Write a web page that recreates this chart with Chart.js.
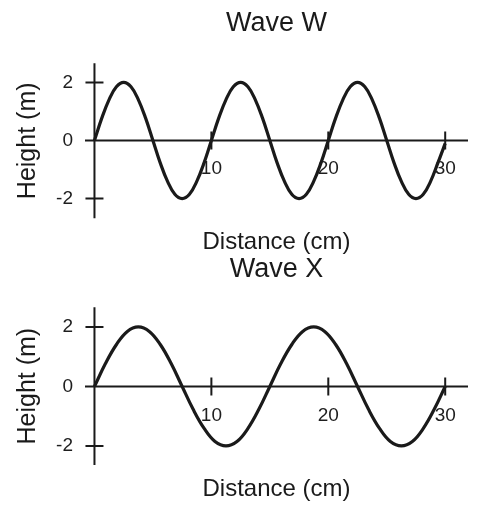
<!DOCTYPE html>
<html><head><meta charset="utf-8">
<script src="https://cdn.jsdelivr.net/npm/chart.js@4/dist/chart.umd.min.js"></script>
<style>
html,body{margin:0;padding:0;background:#fff;width:488px;height:512px;overflow:hidden;}
canvas{position:absolute;left:0;}
#c1{top:0px}
#c2{top:240px}
</style></head><body>
<canvas id="c1" width="488" height="260" style="width:488px;height:260px"></canvas>
<canvas id="c2" width="488" height="272" style="width:488px;height:272px"></canvas>
<script>
// ---- data ----
const waveWDistance = [0,0.625,1.25,1.875,2.5,3.125,3.75,4.375,5,5.625,6.25,6.875,7.5,8.125,8.75,9.375,
  10,10.625,11.25,11.875,12.5,13.125,13.75,14.375,15,15.625,16.25,16.875,17.5,18.125,18.75,19.375,
  20,20.625,21.25,21.875,22.5,23.125,23.75,24.375,25,25.625,26.25,26.875,27.5,28.125,28.75,29.375,30];
const waveWHeight = [0,0.77,1.41,1.85,2,1.85,1.41,0.77,0,-0.77,-1.41,-1.85,-2,-1.85,-1.41,-0.77,
  0,0.77,1.41,1.85,2,1.85,1.41,0.77,0,-0.77,-1.41,-1.85,-2,-1.85,-1.41,-0.77,
  0,0.77,1.41,1.85,2,1.85,1.41,0.77,0,-0.77,-1.41,-1.85,-2,-1.85,-1.41,-0.77,-0.1];
const waveXDistance = [0,0.94,1.88,2.81,3.75,4.69,5.63,6.56,7.5,8.44,9.38,10.31,11.25,12.19,13.13,14.06,
  15,15.94,16.88,17.81,18.75,19.69,20.63,21.56,22.5,23.44,24.38,25.31,26.25,27.19,28.13,29.06,30];
const waveXHeight = [0,0.77,1.41,1.85,2,1.85,1.41,0.77,0,-0.77,-1.41,-1.85,-2,-1.85,-1.41,-0.77,
  0,0.77,1.41,1.85,2,1.85,1.41,0.77,0,-0.77,-1.41,-1.85,-2,-1.85,-1.41,-0.77,0];
const xTickValues = [10, 20, 30];
const xTickLabels = ['10', '20', '30'];
const yTickValues = [-2, 0, 2];
const yTickLabels = ['-2', '0', '2'];
const chartTitles = ['Wave W', 'Wave X'];
const xAxisTitle = 'Distance (cm)';
const yAxisTitle = 'Height (m)';

const FONT = "'Liberation Sans', Arial, Helvetica, sans-serif";
const INK = '#1a1a1a';
const TICK_INK = '#1e1e1e';

const crossAxes = {
  id: 'crossAxes',
  afterDatasetsDraw(chart) {
    const {ctx, chartArea: a} = chart;
    const x = chart.scales.x, y = chart.scales.y;
    const x0 = x.getPixelForValue(0), y0 = y.getPixelForValue(0);
    ctx.save();
    ctx.strokeStyle = INK;
    ctx.lineWidth = 2;
    ctx.beginPath();
    ctx.moveTo(a.left, y0); ctx.lineTo(a.right, y0);
    ctx.moveTo(x0, a.top); ctx.lineTo(x0, a.bottom);
    yTickValues.forEach(v => {
      if (v === 0) return;
      const py = y.getPixelForValue(v);
      ctx.moveTo(x0 - 9, py); ctx.lineTo(x0 + 9, py);
    });
    xTickValues.forEach(v => {
      const px = x.getPixelForValue(v);
      ctx.moveTo(px, y0 - 9); ctx.lineTo(px, y0 + 9);
    });
    ctx.stroke();
    ctx.restore();
  }
};

function makeChart(id, title, xs, ys, c) {
  return new Chart(document.getElementById(id), {
    type: 'line',
    data: {
      datasets: [{
        data: xs.map((d, i) => ({x: d, y: ys[i]})),
        borderColor: INK, borderWidth: 3.2, pointRadius: 0,
        tension: 0.4, fill: false, clip: false
      }]
    },
    options: {
      responsive: false, animation: false, devicePixelRatio: 1,
      layout: {padding: {left: 0, right: 20, top: 0, bottom: 0}},
      plugins: {
        legend: {display: false}, tooltip: {enabled: false},
        title: {display: true, text: title, fullSize: false, color: INK,
          font: {family: FONT, size: 27, weight: 'normal'},
          padding: {top: c.titleTop, bottom: c.titleBottom}}
      },
      scales: {
        x: {
          type: 'linear', position: {y: 0}, min: -0.81, max: 31.95,
          afterBuildTicks: s => { s.ticks = xTickValues.map(v => ({value: v})); },
          afterFit: s => { s.height = 0; },
          grid: {display: false, drawTicks: false}, border: {display: false},
          ticks: {color: TICK_INK, font: {family: FONT, size: 19}, padding: c.xTickPad,
            maxRotation: 0, autoSkip: false,
            callback: v => xTickLabels[xTickValues.indexOf(v)]}
        },
        x2: {
          type: 'linear', position: 'bottom', min: -0.81, max: 31.95,
          afterFit: s => { s.height = c.x2h; },
          grid: {display: false, drawTicks: false}, border: {display: false},
          ticks: {display: false},
          title: {display: true, text: xAxisTitle, color: INK,
            font: {family: FONT, size: 24}, padding: {top: 0, bottom: c.x2pad}}
        },
        y: {
          type: 'linear', position: 'left', min: c.ymin, max: c.ymax,
          afterBuildTicks: s => { s.ticks = yTickValues.map(v => ({value: v})); },
          afterFit: s => { s.width = 85; },
          grid: {display: false, drawTicks: false}, border: {display: false},
          ticks: {color: TICK_INK, font: {family: FONT, size: 19}, padding: 12,
            callback: v => yTickLabels[yTickValues.indexOf(v)]},
          title: {display: true, text: yAxisTitle, color: INK,
            font: {family: FONT, size: 25}, padding: {top: 13.5, bottom: 0}}
        }
      }
    },
    plugins: [crossAxes]
  });
}

makeChart('c1', chartTitles[0], waveWDistance, waveWHeight,
  {ymin: -2.68, ymax: 2.66, titleTop: 7.8, titleBottom: 23.1, xTickPad: 17, x2h: 41.7, x2pad: 3.6});
makeChart('c2', chartTitles[1], waveXDistance, waveXHeight,
  {ymin: -2.64, ymax: 2.66, titleTop: 13.3, titleBottom: 21.6, xTickPad: 18, x2h: 47, x2pad: 8.6});
</script>
</body></html>
